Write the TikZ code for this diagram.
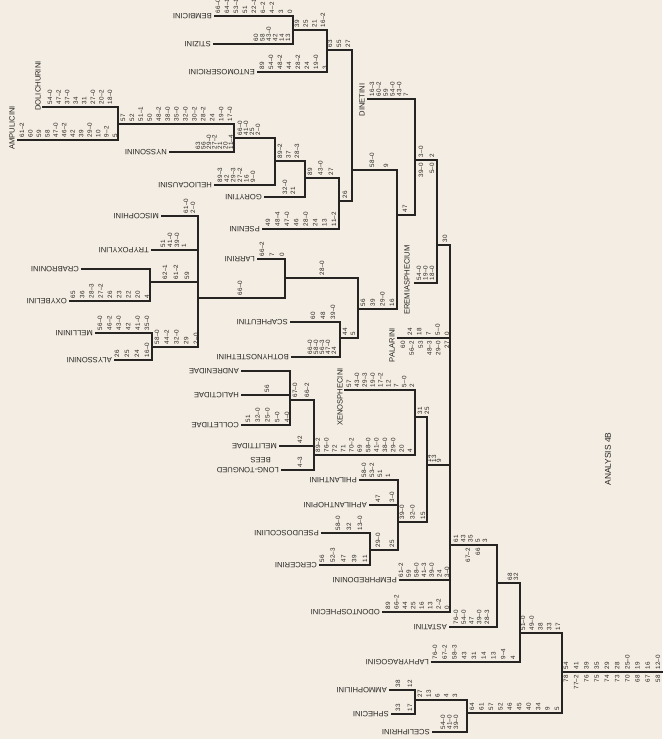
\documentclass[tikz,border=0pt]{standalone}
\usepackage{fontspec}
\setmainfont{Liberation Sans}
\definecolor{paper}{RGB}{244,237,227}
\definecolor{ink}{RGB}{38,36,34}
\tikzset{
 br/.style={draw=ink, line width=1.2pt, line cap=rect},
 num/.style={rotate=90, font=\fontsize{6.3}{7}\selectfont, text=ink, inner sep=0.3pt},
 lab/.style={rotate=180, anchor=west, font=\fontsize{7.6}{9}\selectfont, text=ink, inner sep=1pt},
 vlab/.style={rotate=90, font=\fontsize{7.6}{9}\selectfont, text=ink, inner sep=0pt},
}
\newcommand\numrow[6]{%
  \foreach \nlab [count=\k] in {#6} {\xdef\nmax{\k}}%
  \pgfmathsetmacro\ddx{(#3-#2)/max(\nmax-1,1)}%
  \foreach \nlab [count=\k] in {#6} {\node[num, anchor=#5] (#1-\k) at ({#2+(\k-1)*\ddx}, #4) {\nlab};}%
}
\newcommand\up[5]{\numrow{#1}{#2}{#3}{#4-2.5}{west}{#5}}
\newcommand\dn[5]{\numrow{#1}{#2}{#3}{#4+2.5}{east}{#5}}
\newcommand\leaf[4]{%
  \coordinate (#1-s) at (#3,#2); \coordinate (#1-e) at (#4,#2);
  \draw[br] (#1-s) -- (#1-e);}
\newcommand\inode[6]{%
  \coordinate (#1-t) at (#2,#3); \coordinate (#1-b) at (#2,#4);
  \coordinate (#1-o) at (#2,#5); \coordinate (#1-e) at (#6,#5);
  \draw[br] (#1-t) -- (#1-b); \draw[br] (#1-o) -- (#1-e);}
\begin{document}
\begin{tikzpicture}[x=1pt,y=-1pt]
\fill[paper] (0,0) rectangle (662,739);
\useasboundingbox (0,0) rectangle (662,739);
% leaves
\leaf{bem}{16}{215}{293}
\leaf{sti}{44}{214}{293}
\leaf{ent}{72}{258}{327}
\leaf{dol}{107}{43}{118}
\leaf{amp}{140}{18}{118}
\leaf{nys}{152}{170}{234}
\leaf{hel}{185}{215}{275}
\leaf{gor}{197}{265}{305}
\leaf{pse}{229}{263}{339}
\leaf{mis}{216}{162}{198}
\leaf{try}{250}{152}{198}
\leaf{cra}{269}{82}{150}
\leaf{oxy}{301}{70}{150}
\leaf{mel}{333}{96}{152}
\leaf{aly}{360}{115}{152}
\leaf{lar}{259}{258}{285}
\leaf{sca}{322}{291}{340}
\leaf{bot}{357}{292}{340}
\leaf{din}{99}{368}{415}
\leaf{ere}{283}{415}{437}
\leaf{pal}{338}{398}{450}
\leaf{xen}{390}{345}{415}
\leaf{and}{371}{242}{290}
\leaf{hal}{395}{242}{290}
\leaf{col}{425}{242}{290}
\leaf{mlt}{446}{280}{314}
\leaf{ltb}{470}{282}{314}
\leaf{phi}{480}{360}{398}
\leaf{aph}{505}{370}{398}
\leaf{psd}{533}{322}{370}
\leaf{cer}{565}{320}{370}
\leaf{pem}{580}{400}{450}
\leaf{odo}{612}{383}{450}
\leaf{ast}{627}{450}{497}
\leaf{lap}{662}{432}{520}
\leaf{amm}{690}{390}{415}
\leaf{sph}{714}{392}{415}
\leaf{sce}{732}{433}{467}
% internal nodes
\inode{A}{293}{16}{44}{30}{327}
\inode{B}{327}{30}{72}{50}{352}
\inode{C}{118}{107}{140}{124}{234}
\inode{D}{234}{124}{152}{138}{275}
\inode{E}{275}{138}{185}{161}{305}
\inode{F}{305}{161}{197}{178}{339}
\inode{G}{339}{178}{229}{201}{352}
\inode{H}{352}{50}{201}{170}{397}
\inode{I}{150}{269}{301}{282}{198}
\inode{J}{152}{333}{360}{347}{198}
\inode{K}{198}{216}{347}{298}{285}
\inode{L}{285}{259}{298}{278}{358}
\inode{M}{340}{322}{357}{338}{358}
\inode{N}{358}{278}{338}{309}{397}
\inode{O}{397}{170}{309}{215}{415}
\inode{P}{415}{99}{215}{160}{437}
\inode{Q}{437}{160}{283}{245}{450}
\inode{R}{290}{371}{425}{400}{314}
\inode{S}{314}{400}{470}{455}{415}
\inode{T}{415}{390}{455}{417}{427}
\inode{U}{370}{533}{565}{550}{398}
\inode{V}{398}{480}{550}{522}{427}
\inode{W}{427}{417}{522}{465}{450}
\inode{X}{450}{245}{612}{545}{497}
\inode{Y}{497}{545}{627}{583}{520}
\inode{Z}{520}{583}{662}{633}{562}
\inode{AA}{415}{690}{714}{700}{467}
\inode{AB}{467}{700}{732}{713}{562}
\inode{RT}{562}{633}{713}{672}{662}
% upside-down leaf labels
\node[lab] (bemL) at ([xshift=-2pt]bem-s) {BEMBICINI};
\node[lab] (stiL) at ([xshift=-2pt]sti-s) {STIZINI};
\node[lab] (entL) at ([xshift=-2pt]ent-s) {ENTOMOSERICINI};
\node[lab] (nysL) at ([xshift=-2pt]nys-s) {NYSSONINI};
\node[lab] (helL) at ([xshift=-2pt]hel-s) {HELIOCAUSINI};
\node[lab] (gorL) at ([xshift=-2pt]gor-s) {GORYTINI};
\node[lab] (pseL) at ([xshift=-2pt]pse-s) {PSENINI};
\node[lab] (misL) at ([xshift=-2pt]mis-s) {MISCOPHINI};
\node[lab] (tryL) at ([xshift=-2pt]try-s) {TRYPOXYLINI};
\node[lab] (craL) at ([xshift=-2pt]cra-s) {CRABRONINI};
\node[lab] (oxyL) at ([xshift=-2pt]oxy-s) {OXYBELINI};
\node[lab] (melL) at ([xshift=-2pt]mel-s) {MELLININI};
\node[lab] (alyL) at ([xshift=-2pt]aly-s) {ALYSSONINI};
\node[lab] (larL) at ([xshift=-2pt]lar-s) {LARRINI};
\node[lab] (scaL) at ([xshift=-2pt]sca-s) {SCAPHEUTINI};
\node[lab] (botL) at ([xshift=-2pt]bot-s) {BOTHYNOSTETHINI};
\node[lab] (andL) at ([xshift=-2pt]and-s) {ANDRENIDAE};
\node[lab] (halL) at ([xshift=-2pt]hal-s) {HALICTIDAE};
\node[lab] (colL) at ([xshift=-2pt]col-s) {COLLETIDAE};
\node[lab] (mltL) at ([xshift=-2pt]mlt-s) {MELITTIDAE};
\node[lab] (ltbL) at ([xshift=-2pt]ltb-s) {LONG-TONGUED};
\node[lab] (ltbL2) at ([xshift=-10pt,yshift=10pt]ltb-s) {BEES};
\node[lab] (phiL) at ([xshift=-2pt]phi-s) {PHILANTHINI};
\node[lab] (aphL) at ([xshift=-2pt]aph-s) {APHILANTHOPINI};
\node[lab] (psdL) at ([xshift=-2pt]psd-s) {PSEUDOSCOLIINI};
\node[lab] (cerL) at ([xshift=-2pt]cer-s) {CERCERINI};
\node[lab] (pemL) at ([xshift=-2pt]pem-s) {PEMPHREDONINI};
\node[lab] (odoL) at ([xshift=-2pt]odo-s) {ODONTOSPHECINI};
\node[lab] (astL) at ([xshift=-2pt]ast-s) {ASTATINI};
\node[lab] (lapL) at ([xshift=-2pt]lap-s) {LAPHYRAGOGINI};
\node[lab] (ammL) at ([xshift=-2pt]amm-s) {AMMOPHILINI};
\node[lab] (sphL) at ([xshift=-2pt]sph-s) {SPHECINI};
\node[lab] (sceL) at ([xshift=-2pt]sce-s) {SCELIPHRINI};
% vertical labels
\node[vlab] (dolL) at (38,86) {DOLICHURINI};
\node[vlab] (ampL) at (12,128) {AMPULICINI};
\node[vlab] (dinL) at (362,100) {DINETINI};
\node[vlab] (ereL) at (407,280) {EREMIASPHECIUM};
\node[vlab] (palL) at (392,345) {PALARINI};
\node[vlab] (xenL) at (340,397) {XENOSPHECINI};
\node[vlab, font=\fontsize{8.4}{9}\selectfont] (title) at (608,459) {ANALYSIS 4B};
% character numbers
\up{nbem}{218}{290}{16}{66--0,64--1,53--1,51,22--1,6--2,4--2,3,0}
\up{nsti}{256}{288}{44}{60,58,43--0,42,14,13}
\up{nent}{262}{325}{72}{89,54--0,48--2,44,28--2,24,19--0,3}
\up{nA}{297}{323}{30}{39,25,21,16--2}
\up{nB}{330}{348}{50}{63,55,27}
\up{ndol}{50}{110}{107}{54--0,47--2,37--0,34,31,27--0,20--2,18--0}
\up{namp}{22}{115}{140}{61--2,60,59,58,47--0,46--2,42,39,29--0,10,9--2,5}
\up{nC}{123}{230}{124}{57,52,51--1,50,48--2,38--0,35--0,32--0,30--2,28--2,24,19--0,17--0}
\up{nnys}{198}{231}{152}{63,56,29--0,27--2,21,20,11--4}
\up{nD}{240}{258}{138}{66--0,41--0,25,2--0}
\up{nhel}{220}{253}{185}{89--3,42,29--3,27--2,16,9--0}
\up{nE}{280}{297}{161}{89--2,37,28--3}
\up{ngor}{285}{293}{197}{32--0,21}
\up{nF}{310}{331}{178}{89,43--0,27}
\up{npse}{268}{334}{229}{49,48--4,47--0,46,28--0,24,13,11--2}
\up{nG}{345}{345}{201}{26}
\up{nH}{372}{386}{170}{58--0,9}
\up{nmis}{186}{193}{216}{61--0,2--0}
\up{ntry}{163}{184}{250}{51,41--0,39--0,1}
\up{noxy}{73}{147}{301}{65,36,28--3,27--2,26,23,22,20,4}
\up{nI}{165}{187}{282}{62--1,61--2,59}
\up{nmel}{100}{147}{333}{56--0,46--2,43--0,42,41--0,35--0}
\up{naly}{117}{147}{360}{26,25,24,16--0}
\up{nJ}{157}{196}{347}{58--0,44--2,32--0,29,2--0}
\up{nK}{240}{240}{298}{66--0}
\up{nlar}{262}{282}{259}{66--2,7,0}
\up{nL}{322}{322}{278}{28--0}
\up{nsca}{313}{333}{322}{60,48,39--0}
\up{nbot}{310}{334}{357}{66--0,58--0,56--3,47--0,24}
\up{nM}{345}{353}{338}{44,5}
\up{nN}{363}{392}{309}{56,39,29--0,16}
\up{nO}{405}{405}{215}{47}
\up{ndin}{372}{406}{99}{16--3,60--2,59,54--0,43--0,7}
\up{nP}{421}{432}{160}{3--0,2}
\dn{nPb}{421}{432}{160}{39--0,5--0}
\up{nere}{419}{432}{283}{54--0,19--0,18--0}
\up{nQ}{445}{445}{245}{30}
\up{npal}{410}{447}{338}{24,18,7,5--0,0}
\dn{npalb}{403}{447}{338}{60,56--2,53,48--3,29--0,27}
\up{nxen}{349}{412}{390}{57,43--0,29--3,19--0,17--2,12,7,5--0,2}
\up{nhal}{267}{267}{395}{56}
\up{ncol}{248}{287}{425}{51,32--0,25--0,5--0,4--0}
\up{nR}{295}{307}{400}{67--0,66--2}
\up{nmlt}{300}{300}{446}{42}
\up{nltb}{300}{300}{470}{4--3}
\up{nS}{318}{410}{455}{89--2,76--0,72,71,70--2,69,58--0,41--0,38--0,29--0,20,4}
\up{nT}{420}{427}{417}{31,25}
\up{nphi}{364}{388}{480}{58--0,53--2,51,1}
\up{naph}{378}{392}{505}{47,3--0}
\up{npsd}{338}{360}{533}{58--0,32,13--0}
\up{ncer}{322}{365}{565}{56,52--3,47,39,11}
\up{nU}{378}{392}{550}{29--0,25}
\up{nV}{402}{423}{522}{39--0,32--0,15}
\up{nW}{429}{439}{465}{14,13,9}
\up{npem}{401}{447}{580}{61--2,59,58--0,41--3,39--0,24,3--0}
\up{nodo}{388}{447}{612}{89,66--2,44,25,16,13,2--2,0}
\up{nX}{456}{485}{545}{61,43,35,5,3}
\dn{nXb}{468}{478}{545}{67--2,66}
\up{nast}{456}{487}{627}{76--0,54--0,47,39--0,28--3}
\up{nY}{510}{516}{583}{68,32}
\up{nlap}{435}{513}{662}{76--0,67--2,58--3,43,31,14,13,9--4,4}
\up{nZ}{523}{558}{633}{51--0,49--0,38,33,17}
\up{namm}{398}{410}{690}{38,12}
\up{nsph}{398}{410}{714}{33,17}
\up{nAA}{420}{455}{700}{27,13,6,4,3}
\up{nsce}{443}{456}{732}{54--0,41--0,39--0}
\up{nAB}{472}{557}{713}{64,61,57,52,46,45,40,34,9,5}
\up{nRT}{566}{658}{672}{54,41,39,35,29,28,25--0,19,16,12--0}
\dn{nRTb}{566}{658}{672}{78,77--2,76,75,74,73,70,68,67,58}
\end{tikzpicture}
\end{document}
